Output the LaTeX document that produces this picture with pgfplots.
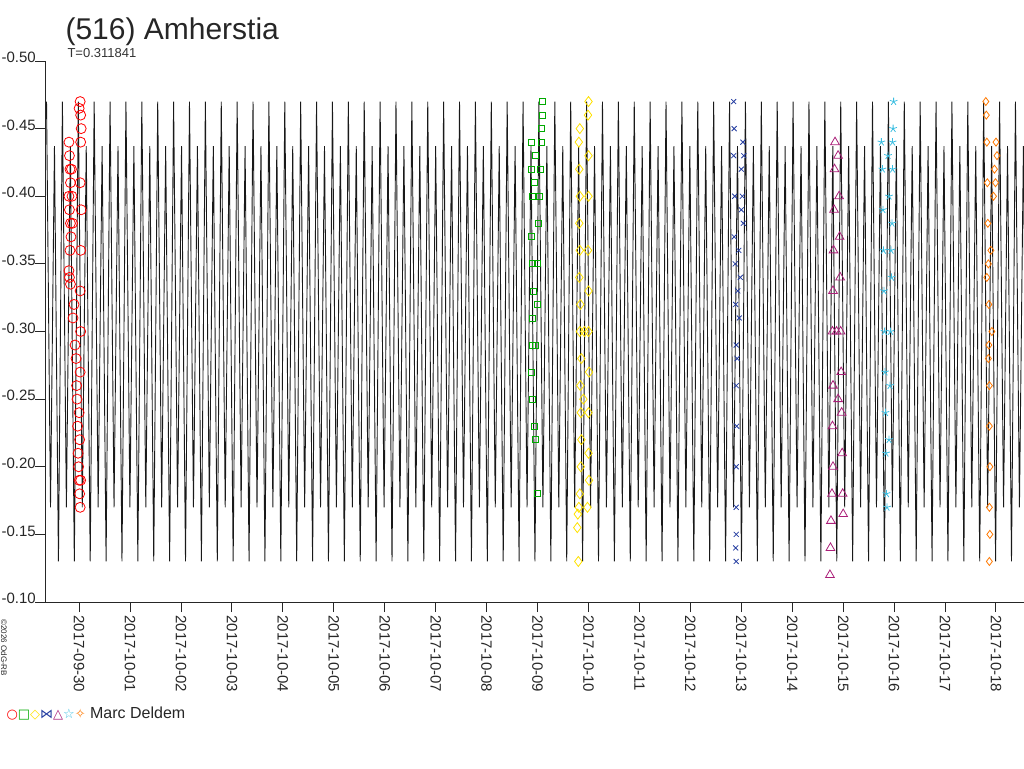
\documentclass[border=0pt]{standalone}
\usepackage{pgfplots}
\usepackage{pgfplotstable}
\pgfplotsset{compat=1.18}
\usepackage{fontspec}
\setmainfont{Liberation Sans}
\newfontfamily\dejavu{DejaVu Sans}
\definecolor{cred}{RGB}{255,0,0}
\definecolor{cgreen}{RGB}{0,170,0}
\definecolor{cyellow}{RGB}{255,225,0}
\definecolor{cblue}{RGB}{35,60,160}
\definecolor{cmag}{RGB}{170,30,120}
\definecolor{ccyan}{RGB}{60,190,225}
\definecolor{corange}{RGB}{255,120,0}
\pgfplotstableread[row sep=\\]{y\\
-0.470\\ -0.170\\ -0.437\\ -0.130\\ -0.470\\ -0.170\\ -0.437\\ -0.130\\
-0.470\\ -0.170\\ -0.437\\ -0.130\\ -0.470\\ -0.170\\ -0.437\\ -0.130\\
-0.470\\ -0.170\\ -0.437\\ -0.130\\ -0.470\\ -0.170\\ -0.437\\ -0.130\\
-0.470\\ -0.170\\ -0.437\\ -0.130\\ -0.470\\ -0.170\\ -0.437\\ -0.130\\
-0.470\\ -0.170\\ -0.437\\ -0.130\\ -0.470\\ -0.170\\ -0.437\\ -0.130\\
-0.470\\ -0.170\\ -0.437\\ -0.130\\ -0.470\\ -0.170\\ -0.437\\ -0.130\\
-0.470\\ -0.170\\ -0.437\\ -0.130\\ -0.470\\ -0.170\\ -0.437\\ -0.130\\
-0.470\\ -0.170\\ -0.437\\ -0.130\\ -0.470\\ -0.170\\ -0.437\\ -0.130\\
-0.470\\ -0.170\\ -0.437\\ -0.130\\ -0.470\\ -0.170\\ -0.437\\ -0.130\\
-0.470\\ -0.170\\ -0.437\\ -0.130\\ -0.470\\ -0.170\\ -0.437\\ -0.130\\
-0.470\\ -0.170\\ -0.437\\ -0.130\\ -0.470\\ -0.170\\ -0.437\\ -0.130\\
-0.470\\ -0.170\\ -0.437\\ -0.130\\ -0.470\\ -0.170\\ -0.437\\ -0.130\\
-0.470\\ -0.170\\ -0.437\\ -0.130\\ -0.470\\ -0.170\\ -0.437\\ -0.130\\
-0.470\\ -0.170\\ -0.437\\ -0.130\\ -0.470\\ -0.170\\ -0.437\\ -0.130\\
-0.470\\ -0.170\\ -0.437\\ -0.130\\ -0.470\\ -0.170\\ -0.437\\ -0.130\\
-0.470\\ -0.170\\ -0.437\\ -0.130\\ -0.470\\ -0.170\\ -0.437\\ -0.130\\
-0.470\\ -0.170\\ -0.437\\ -0.130\\ -0.470\\ -0.170\\ -0.437\\ -0.130\\
-0.470\\ -0.170\\ -0.437\\ -0.130\\ -0.470\\ -0.170\\ -0.437\\ -0.130\\
-0.470\\ -0.170\\ -0.437\\ -0.130\\ -0.470\\ -0.170\\ -0.437\\ -0.130\\
-0.470\\ -0.170\\ -0.437\\ -0.130\\ -0.470\\ -0.170\\ -0.437\\ -0.130\\
-0.470\\ -0.170\\ -0.437\\ -0.130\\ -0.470\\ -0.170\\ -0.437\\ -0.130\\
-0.470\\ -0.170\\ -0.437\\ -0.130\\ -0.470\\ -0.170\\ -0.437\\ -0.130\\
-0.470\\ -0.170\\ -0.437\\ -0.130\\ -0.470\\ -0.170\\ -0.437\\ -0.130\\
-0.470\\ -0.170\\ -0.437\\ -0.130\\ -0.470\\ -0.170\\ -0.437\\ -0.130\\
-0.470\\ -0.170\\ -0.437\\ -0.130\\ -0.470\\ -0.170\\ -0.437\\ -0.130\\
-0.470\\ -0.170\\ -0.437\\ -0.130\\ -0.470\\ -0.170\\ -0.437\\ -0.130\\
-0.470\\ -0.170\\ -0.437\\ -0.130\\ -0.470\\ -0.170\\ -0.437\\ -0.130\\
-0.470\\ -0.170\\ -0.437\\ -0.130\\ -0.470\\ -0.170\\ -0.437\\ -0.130\\
-0.470\\ -0.170\\ -0.437\\ -0.130\\ -0.470\\ -0.170\\ -0.437\\ -0.130\\
-0.470\\ -0.170\\ -0.437\\ -0.130\\ -0.470\\ -0.170\\ -0.437\\ -0.130\\
-0.470\\ -0.170\\ -0.437\\ -0.130\\ -0.470\\ -0.170\\ -0.437\\ -0.130\\
}\curve
\begin{document}
\begin{tikzpicture}[x=1pt,y=1pt]
\useasboundingbox (0,0) rectangle (1024,768);
\node[anchor=base west,font=\fontsize{30}{34}\selectfont,text=black!85] at (62,728) {(516) Amherstia};
\node[anchor=base west,font=\fontsize{13}{15}\selectfont,text=black!80] at (64,710) {T=0.311841};
\node[anchor=base west,font=\fontsize{16}{18}\selectfont,text=black!85] at (3,50) {{\dejavu\fontsize{13}{15}\selectfont\textcolor{cred}{○}\textcolor{cgreen}{□}\textcolor{cyellow}{◇}\textcolor{cblue}{⋈}\textcolor{cmag}{△}\textcolor{ccyan}{☆}\textcolor{corange}{✧}} Marc Deldem};
\node[rotate=-90,anchor=west,font=\fontsize{8}{9}\selectfont,text=black!85] at (4,152) {©2026 OdG-RB};
\begin{axis}[
  at={(45pt,166pt)}, anchor=south west, scale only axis,
  width=979pt, height=541pt,
  xmin=-0.67, xmax=18.55, ymin=-0.5, ymax=-0.1, y dir=reverse,
  axis x line*=bottom, axis y line*=left,
  axis line style={black!85,line width=1pt},
  tick style={black!85,line width=1pt},
  tick align=outside, major tick length=10pt,
  xtick={0,...,18},
  xticklabels={2017-09-30,2017-10-01,2017-10-02,2017-10-03,2017-10-04,2017-10-05,2017-10-06,2017-10-07,2017-10-08,2017-10-09,2017-10-10,2017-10-11,2017-10-12,2017-10-13,2017-10-14,2017-10-15,2017-10-16,2017-10-17,2017-10-18},
  xticklabel style={rotate=-90,anchor=west,font=\fontsize{15}{18}\selectfont,text=black!85},
  ytick={-0.5,-0.45,...,-0.1},
  yticklabel style={anchor=south east,xshift=2pt,yshift=-3pt,inner sep=1pt,font=\fontsize{15}{18}\selectfont,text=black!85,/pgf/number format/.cd,fixed,fixed zerofill,precision=2,assume math mode=true},
  clip=true,
]
\addplot[black!90,line width=0.9pt] table[x expr=\coordindex*0.07796-0.64,y=y]{\curve};
\addplot[only marks,mark=o,mark size=5pt,cred,thick] coordinates {(-0.2,-0.44)(-0.19,-0.43)(-0.18,-0.42)(-0.17,-0.41)(-0.2,-0.40)(-0.19,-0.39)(-0.17,-0.38)(-0.16,-0.37)(-0.18,-0.36)(-0.2,-0.345)(-0.19,-0.34)(-0.17,-0.335)(-0.15,-0.42)(-0.14,-0.40)(-0.13,-0.38)(-0.1,-0.32)(-0.12,-0.31)(-0.08,-0.29)(-0.06,-0.28)(-0.05,-0.26)(-0.04,-0.25)(-0.03,-0.23)(-0.02,-0.21)(-0.01,-0.20)(0,-0.19)(0.01,-0.18)(0.02,-0.17)(0.03,-0.19)(0.01,-0.22)(0.0,-0.24)(0.02,-0.27)(0.03,-0.30)(0.02,-0.33)(0.03,-0.36)(0.04,-0.39)(0.02,-0.41)(0.03,-0.44)(0.04,-0.45)(0.03,-0.46)(0.02,-0.47)(0.0,-0.465)};
\addplot[only marks,mark=square,mark size=3pt,cgreen,thick] coordinates {(8.87,-0.44)(8.88,-0.42)(8.9,-0.40)(8.88,-0.37)(8.9,-0.35)(8.91,-0.33)(8.89,-0.31)(8.9,-0.29)(8.88,-0.27)(8.9,-0.25)(8.93,-0.23)(8.95,-0.22)(9.0,-0.18)(8.96,-0.29)(9.0,-0.32)(9.0,-0.35)(9.02,-0.38)(9.03,-0.40)(9.05,-0.42)(9.07,-0.44)(9.08,-0.45)(9.09,-0.46)(9.1,-0.47)(8.93,-0.41)(8.95,-0.43)};
\addplot[only marks,mark=diamond,mark size=5pt,cyellow,thick] coordinates {(9.8,-0.13)(9.78,-0.155)(9.79,-0.165)(9.81,-0.17)(9.83,-0.18)(9.85,-0.2)(9.86,-0.22)(9.85,-0.24)(9.84,-0.26)(9.86,-0.28)(9.83,-0.30)(9.84,-0.32)(9.82,-0.34)(9.83,-0.36)(9.82,-0.38)(9.83,-0.40)(9.82,-0.42)(9.81,-0.44)(9.83,-0.45)(9.99,-0.46)(10.0,-0.47)(10.0,-0.43)(10.0,-0.40)(9.99,-0.36)(10.0,-0.33)(10.0,-0.30)(10.01,-0.27)(10.0,-0.24)(10.0,-0.21)(10.01,-0.19)(9.98,-0.17)(9.9,-0.25)(9.92,-0.3)};
\addplot[only marks,mark=x,mark size=3.5pt,cblue,thick] coordinates {(12.85,-0.47)(12.86,-0.45)(12.85,-0.43)(12.87,-0.40)(12.86,-0.37)(12.88,-0.35)(12.89,-0.32)(12.9,-0.29)(12.9,-0.26)(12.91,-0.23)(12.9,-0.2)(12.9,-0.17)(12.9,-0.15)(12.9,-0.13)(12.93,-0.33)(12.95,-0.36)(13.0,-0.42)(13.02,-0.40)(13.04,-0.38)(13.05,-0.43)(13.03,-0.44)(13.0,-0.39)(12.98,-0.34)(12.96,-0.31)(12.92,-0.28)(12.89,-0.14)};
\addplot[only marks,mark=triangle,mark size=5pt,cmag,thick] coordinates {(14.74,-0.12)(14.75,-0.14)(14.76,-0.16)(14.78,-0.18)(14.8,-0.2)(14.79,-0.23)(14.8,-0.26)(14.79,-0.3)(14.8,-0.33)(14.81,-0.36)(14.82,-0.39)(14.83,-0.42)(14.84,-0.44)(14.9,-0.43)(14.92,-0.40)(14.93,-0.37)(14.94,-0.34)(14.95,-0.3)(14.96,-0.27)(14.97,-0.24)(14.98,-0.21)(14.99,-0.18)(15.0,-0.165)(14.9,-0.25)(14.87,-0.3)};
\addplot[only marks,mark=star,mark size=4pt,ccyan,thick] coordinates {(15.75,-0.44)(15.77,-0.42)(15.78,-0.39)(15.79,-0.36)(15.8,-0.33)(15.81,-0.30)(15.82,-0.27)(15.83,-0.24)(15.84,-0.21)(15.85,-0.18)(15.86,-0.17)(15.9,-0.22)(15.92,-0.26)(15.93,-0.30)(15.95,-0.34)(15.96,-0.38)(15.97,-0.42)(15.98,-0.45)(15.99,-0.47)(15.97,-0.44)(15.94,-0.36)(15.9,-0.40)(15.88,-0.43)};
\addplot[only marks,mark=diamond,mark size=4pt,corange,thick] coordinates {(17.8,-0.47)(17.81,-0.46)(17.82,-0.44)(17.83,-0.41)(17.84,-0.38)(17.85,-0.35)(17.86,-0.32)(17.86,-0.29)(17.87,-0.26)(17.87,-0.23)(17.88,-0.20)(17.87,-0.17)(17.88,-0.15)(17.87,-0.13)(17.9,-0.36)(17.92,-0.30)(17.95,-0.40)(17.97,-0.42)(18.0,-0.44)(18.02,-0.43)(17.99,-0.41)(17.85,-0.28)(17.82,-0.34)};
\end{axis}
\end{tikzpicture}
\end{document}
